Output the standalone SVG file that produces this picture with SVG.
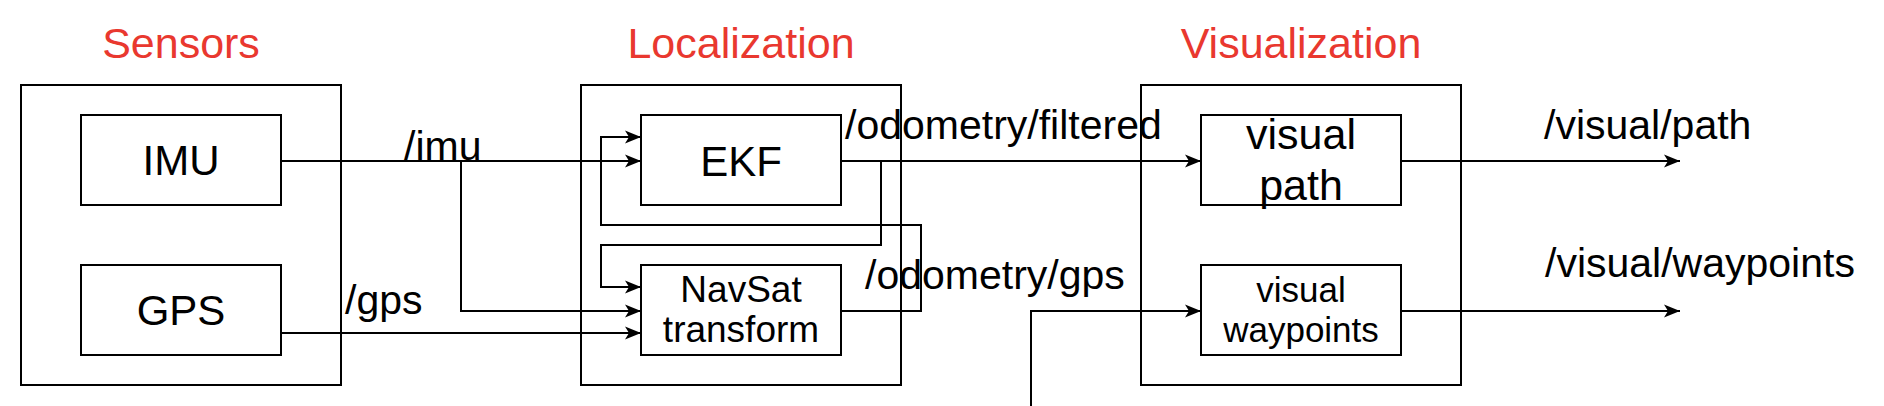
<svg xmlns="http://www.w3.org/2000/svg" width="1884" height="406" viewBox="0 0 1884 406">
<style>
.box{fill:#fff;stroke:#000;stroke-width:2}
.grp{fill:none;stroke:#000;stroke-width:2}
.title{font-family:"Liberation Sans",Arial,sans-serif;font-size:43px;fill:#e9382f;text-anchor:middle}
.lbl{font-family:"Liberation Sans",Arial,sans-serif;fill:#000;text-anchor:middle}
.edge{font-family:"Liberation Sans",Arial,sans-serif;font-size:41px;fill:#000}
.conn path{fill:none;stroke:#000;stroke-width:2;marker-end:url(#arr)}
</style>
<defs>
<marker id="arr" markerUnits="userSpaceOnUse" viewBox="-17 -8 18 16" refX="0" refY="0" markerWidth="18" markerHeight="16" orient="auto">
<path d="M0,0 L-16,-6.5 L-12,0 L-16,6.5 Z" fill="#000"/>
</marker>
</defs>
<rect width="1884" height="406" fill="#fff"/>
<g id="sensors">
<rect class="grp" x="21" y="85" width="320" height="300"/>
<text class="title" x="181" y="58">Sensors</text>
</g>
<g id="localization">
<rect class="grp" x="581" y="85" width="320" height="300"/>
<text class="title" x="741" y="58">Localization</text>
</g>
<g id="visualization">
<rect class="grp" x="1141" y="85" width="320" height="300"/>
<text class="title" x="1301" y="58">Visualization</text>
</g>
<g id="imu">
<rect class="box" x="81" y="115" width="200" height="90"/>
<text class="lbl" x="181" y="175" font-size="42">IMU</text>
</g>
<g id="gps">
<rect class="box" x="81" y="265" width="200" height="90"/>
<text class="lbl" x="181" y="325" font-size="42">GPS</text>
</g>
<g id="ekf">
<rect class="box" x="641" y="115" width="200" height="90"/>
<text class="lbl" x="741" y="176" font-size="42">EKF</text>
</g>
<g id="navsat">
<rect class="box" x="641" y="265" width="200" height="90"/>
<text class="lbl" x="741" y="302" font-size="37">NavSat</text>
<text class="lbl" x="741" y="342" font-size="37">transform</text>
</g>
<g id="visual_path">
<rect class="box" x="1201" y="115" width="200" height="90"/>
<text class="lbl" x="1301" y="149" font-size="43">visual</text>
<text class="lbl" x="1301" y="200" font-size="43">path</text>
</g>
<g id="visual_waypoints">
<rect class="box" x="1201" y="265" width="200" height="90"/>
<text class="lbl" x="1301" y="302" font-size="35">visual</text>
<text class="lbl" x="1301" y="342" font-size="35">waypoints</text>
</g>
<g id="connectors" class="conn">
<path d="M281,161 H641"/>
<path d="M461,161 V311 H641"/>
<path d="M281,333 H641"/>
<path d="M841,161 H1201"/>
<path d="M881,161 V245 H601 V287 H641"/>
<path d="M841,311 H921 V225 H601 V137 H641"/>
<path d="M1031,406 V311 H1201"/>
<path d="M1401,161 H1680"/>
<path d="M1401,311 H1680"/>
</g>
<g id="edge-labels">
<text class="edge" x="404" y="160">/imu</text>
<text class="edge" x="345" y="314">/gps</text>
<text class="edge" x="845" y="139">/odometry/filtered</text>
<text class="edge" x="865" y="289">/odometry/gps</text>
<text class="edge" x="1544" y="139">/visual/path</text>
<text class="edge" x="1545" y="277">/visual/waypoints</text>
</g>
</svg>
